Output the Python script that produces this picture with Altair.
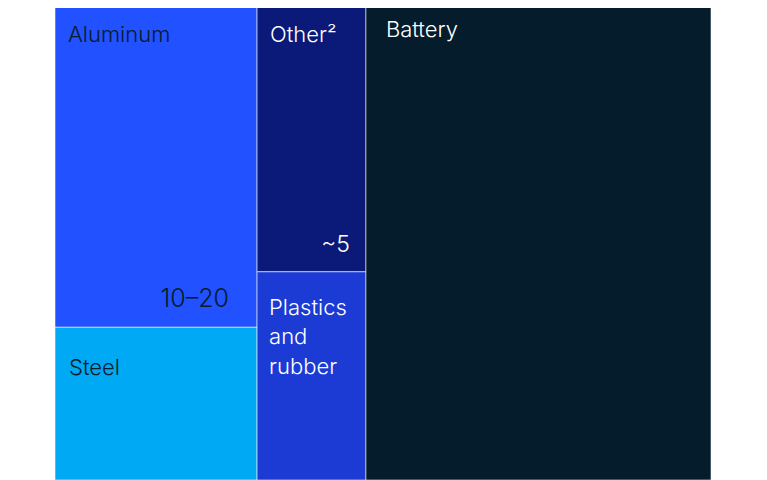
import altair as alt
import pandas as pd

# ---- data (share of total area, %) ----
names = ["Aluminum", "Steel", "Other²", "Plastics\nand\nrubber", "Battery"]
groups = ["Body", "Body", "Misc", "Misc", "Battery"]
shares = [21.0, 9.8, 9.4, 7.2, 52.6]
value_labels = ["10–20", "", "~5", "", ""]

# ---- styling ----
palette = ["#2251FF", "#00A9F4", "#0B1A78", "#1B3BD4", "#051C2C"]
FONT = "Inter"
WEIGHT = 300
TOP_CROP = 100 * 8 / 480  # top of the treemap is cut off by the page margin

# ---- slice-and-dice treemap layout computed from the shares ----
rows = []
group_order = list(dict.fromkeys(groups))
total = sum(shares)
x_cursor = 0.0
for g in group_order:
    idx = [i for i, gg in enumerate(groups) if gg == g]
    gsum = sum(shares[i] for i in idx)
    gw = 100 * gsum / total
    y_cursor = 0.0
    for i in idx:
        h = 100 * shares[i] / gsum
        rows.append(dict(name=names[i], value=value_labels[i],
                         x0=x_cursor, x1=x_cursor + gw,
                         y0=y_cursor, y1=y_cursor + h))
        y_cursor += h
    x_cursor += gw
df = pd.DataFrame(rows)

xs = alt.Scale(domain=[0, 100], nice=False, zero=False)
ys = alt.Scale(domain=[TOP_CROP, 100], nice=False, zero=False, reverse=True)

base = alt.Chart(df)

rects = base.mark_rect(stroke="#ffffff", strokeOpacity=0.55, strokeWidth=1, clip=True).encode(
    x=alt.X("x0:Q", scale=xs, axis=None),
    x2="x1:Q",
    y=alt.Y("y0:Q", scale=ys, axis=None),
    y2="y1:Q",
    color=alt.Color("name:N", scale=alt.Scale(domain=names, range=palette), legend=None),
)

# label styles: (dx, dy, color, size)
name_styles = {
    "Aluminum": (13, 42, "#051C2C", 22),
    "Steel": (14, 48, "#051C2C", 22),
    "Other²": (13, 42, "#ffffff", 22),
    "Plastics\nand\nrubber": (12, 43, "#ffffff", 22),
    "Battery": (20, 37, "#ffffff", 22),
}
value_styles = {
    "Aluminum": (-28, -20, "#051C2C", 25),
    "Other²": (-16, -20, "#ffffff", 23),
}

layers = [rects]
for nm, (dx, dy, col, sz) in name_styles.items():
    layers.append(
        base.transform_filter(alt.datum.name == nm).mark_text(
            align="left", baseline="alphabetic", dx=dx, dy=dy, font=FONT,
            fontWeight=WEIGHT, fontSize=sz, color=col, lineBreak="\n", lineHeight=29.5,
        ).encode(
            x=alt.X("x0:Q", scale=xs, axis=None),
            y=alt.Y("y0:Q", scale=ys, axis=None),
            text="name:N",
        )
    )
for nm, (dx, dy, col, sz) in value_styles.items():
    layers.append(
        base.transform_filter(alt.datum.name == nm).mark_text(
            align="right", baseline="alphabetic", dx=dx, dy=dy, font=FONT,
            fontWeight=WEIGHT, fontSize=sz, color=col,
        ).encode(
            x=alt.X("x1:Q", scale=xs, axis=None),
            y=alt.Y("y1:Q", scale=ys, axis=None),
            text="value:N",
        )
    )

chart = alt.layer(*layers).properties(
    width=656, height=472,
    padding={"left": 47, "top": 0, "right": 0, "bottom": 0},
    autosize=alt.AutoSizeParams(type="none"),
    background="#ffffff",
).configure_view(stroke=None)

chart.save("out.html", embed_options={"renderer": "svg", "actions": False})
